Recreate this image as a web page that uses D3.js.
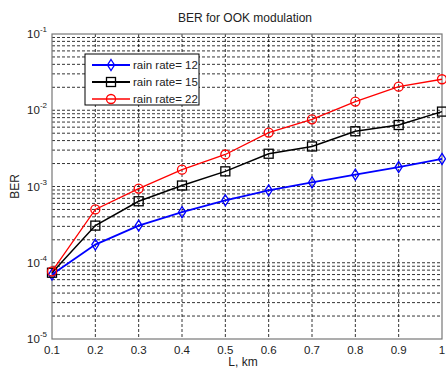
<!DOCTYPE html>
<html>
<head>
<meta charset="utf-8">
<script src="https://cdn.jsdelivr.net/npm/d3@7"></script>
<style>
  body { margin: 0; background: #fff; }
  text { font-family: "Liberation Sans", Arial, sans-serif; fill: #222; }
</style>
</head>
<body>
<div id="chart"></div>
<script>
// distances (km)
var distances = [0.1, 0.2, 0.3, 0.4, 0.5, 0.6, 0.7, 0.8, 0.9, 1.0];
// BER per rain rate
var ber12 = [7.0e-5, 1.73e-4, 3.07e-4, 4.6e-4, 6.6e-4, 8.9e-4, 1.13e-3, 1.43e-3, 1.8e-3, 2.3e-3];
var ber15 = [7.4e-5, 3.07e-4, 6.4e-4, 1.03e-3, 1.58e-3, 2.69e-3, 3.35e-3, 5.3e-3, 6.4e-3, 9.6e-3];
var ber22 = [7.7e-5, 5.0e-4, 9.4e-4, 1.66e-3, 2.63e-3, 5.1e-3, 7.6e-3, 1.3e-2, 2.04e-2, 2.55e-2];
var xTicks = [0.1, 0.2, 0.3, 0.4, 0.5, 0.6, 0.7, 0.8, 0.9, 1];
var yExponents = [-5, -4, -3, -2, -1];
var seriesNames = ["rain rate= 12", "rain rate= 15", "rain rate= 22"];

var series = [
  {name: seriesNames[0], values: ber12, color: "#0000ff", marker: "diamond", width: 1.8},
  {name: seriesNames[1], values: ber15, color: "#000000", marker: "square", width: 1.5},
  {name: seriesNames[2], values: ber22, color: "#ff0000", marker: "circle", width: 1.3}
];

var margin = {top: 34, right: 4, bottom: 31, left: 52},
    width = 446 - margin.left - margin.right,
    height = 370 - margin.top - margin.bottom;

var svg = d3.select("#chart")
  .append("svg")
  .attr("width", 446)
  .attr("height", 370);

var g = svg.append("g")
  .attr("transform", "translate(" + margin.left + "," + margin.top + ")");

var x = d3.scaleLinear().domain([0.1, 1]).range([0, width]);
var y = d3.scaleLog().domain([1e-5, 1e-1]).range([height, 0]);

// grid: vertical lines
g.append("g")
  .selectAll("line")
  .data(xTicks.slice(1, -1))
  .enter().append("line")
  .attr("x1", function(d) { return x(d); })
  .attr("x2", function(d) { return x(d); })
  .attr("y1", 0).attr("y2", height)
  .attr("stroke", "#000")
  .attr("stroke-width", 0.8)
  .attr("stroke-dasharray", "3,2");

// grid: horizontal log lines (major + minor)
var yGrid = [];
yExponents.slice(0, -1).forEach(function(e) {
  for (var m = 1; m <= 9; m++) {
    if (e === -5 && m === 1) continue;
    yGrid.push(m * Math.pow(10, e));
  }
});
g.append("g")
  .selectAll("line")
  .data(yGrid)
  .enter().append("line")
  .attr("x1", 0).attr("x2", width)
  .attr("y1", function(d) { return y(d); })
  .attr("y2", function(d) { return y(d); })
  .attr("stroke", "#000")
  .attr("stroke-width", 0.8)
  .attr("stroke-dasharray", "3,2");

// box
g.append("rect")
  .attr("width", width).attr("height", height)
  .attr("fill", "none")
  .attr("stroke", "#777")
  .attr("stroke-width", 1.2);

// x tick labels
g.append("g")
  .selectAll("text")
  .data(xTicks)
  .enter().append("text")
  .attr("x", function(d) { return x(d); })
  .attr("y", height + 15)
  .attr("text-anchor", "middle")
  .style("font-size", "11.5px")
  .text(function(d) { return d; });

// y tick labels 10^e
var yl = g.append("g")
  .selectAll("text")
  .data(yExponents)
  .enter().append("text")
  .attr("x", -5)
  .attr("y", function(d) { return y(Math.pow(10, d)) + 4; })
  .attr("text-anchor", "end")
  .style("font-size", "11.5px");
yl.append("tspan").text("10");
yl.append("tspan")
  .attr("dy", -6)
  .style("font-size", "8px")
  .text(function(d) { return "-" + Math.abs(d); });

// title and axis labels
svg.append("text")
  .attr("x", margin.left + width / 2 - 2)
  .attr("y", 22)
  .attr("text-anchor", "middle")
  .style("font-size", "12px")
  .text("BER  for OOK modulation");

svg.append("text")
  .attr("x", margin.left + width / 2 - 4)
  .attr("y", 366)
  .attr("text-anchor", "middle")
  .style("font-size", "12px")
  .text("L, km");

svg.append("text")
  .attr("transform", "translate(19," + (margin.top + y(1e-3)) + ") rotate(-90)")
  .attr("text-anchor", "middle")
  .style("font-size", "12px")
  .text("BER");

function drawMarker(sel, type, color) {
  if (type === "circle") {
    sel.append("circle").attr("r", 4.5)
      .attr("fill", "none").attr("stroke", color).attr("stroke-width", 1.3);
  } else if (type === "square") {
    sel.append("rect").attr("x", -4.5).attr("y", -4.5).attr("width", 9).attr("height", 9)
      .attr("fill", "none").attr("stroke", color).attr("stroke-width", 1.3);
  } else {
    sel.append("path").attr("d", "M0,-5.5L3.5,0L0,5.5L-3.5,0Z")
      .attr("fill", "none").attr("stroke", color).attr("stroke-width", 1.3);
  }
}

var line = d3.line()
  .x(function(d, i) { return x(distances[i]); })
  .y(function(d) { return y(d); });

series.forEach(function(s) {
  g.append("path")
    .datum(s.values)
    .attr("fill", "none")
    .attr("stroke", s.color)
    .attr("stroke-width", s.width)
    .attr("d", line);
  g.append("g")
    .selectAll("g")
    .data(s.values)
    .enter().append("g")
    .attr("transform", function(d, i) { return "translate(" + x(distances[i]) + "," + y(d) + ")"; })
    .call(drawMarker, s.marker, s.color);
});

// legend
var legend = svg.append("g").attr("transform", "translate(85,54)");
legend.append("rect")
  .attr("width", 114).attr("height", 51)
  .attr("fill", "#fff")
  .attr("stroke", "#000")
  .attr("stroke-width", 1);
series.forEach(function(s, i) {
  var row = legend.append("g").attr("transform", "translate(0," + (11 + i * 17) + ")");
  row.append("line")
    .attr("x1", 7).attr("x2", 45)
    .attr("stroke", s.color).attr("stroke-width", s.width + 0.3);
  row.append("g").attr("transform", "translate(26,0)").call(drawMarker, s.marker, s.color);
  row.append("text")
    .attr("x", 48).attr("y", 4)
    .style("font-size", "11.5px")
    .text(s.name);
});
</script>
</body>
</html>
